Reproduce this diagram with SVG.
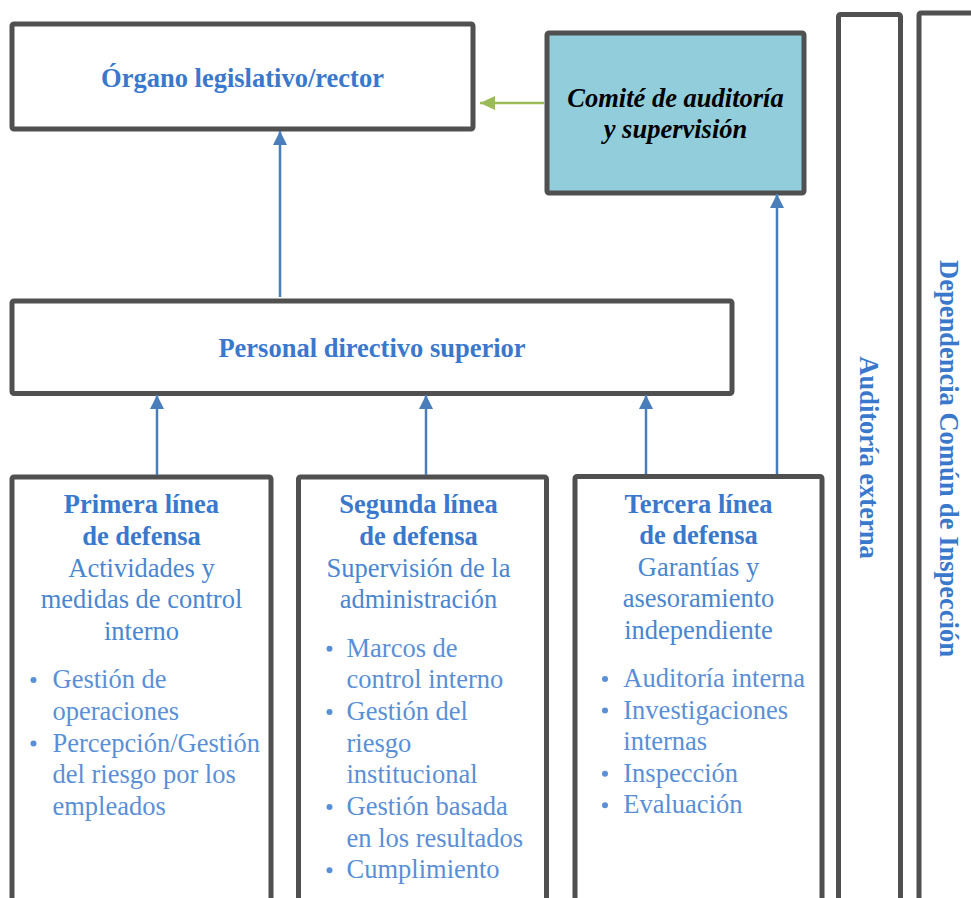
<svg xmlns="http://www.w3.org/2000/svg" width="971" height="898" viewBox="0 0 971 898">
<style>
.box{fill:#ffffff;stroke:#505050;stroke-width:5}
.hd{font-family:"Liberation Serif","Times New Roman",serif;font-weight:bold;font-size:26.5px;fill:#3a78cc}
.tx{font-family:"Liberation Serif","Times New Roman",serif;font-size:26.5px;fill:#4a86d0}
.li{font-family:"Liberation Serif","Times New Roman",serif;font-size:26.5px;fill:#5a8fd6}
.it{font-family:"Liberation Serif","Times New Roman",serif;font-weight:bold;font-style:italic;font-size:26.5px;fill:#000000}
.c{text-anchor:middle}
.bl{fill:#5a8fd6}
.conn{stroke:#4a7ebb;stroke-width:2.5;fill:none}
.gconn{stroke:#9bbb59;stroke-width:2.5;fill:none}
</style>
<defs>
<marker id="ab" markerUnits="userSpaceOnUse" markerWidth="14" markerHeight="14" refX="14" refY="7" orient="auto">
<path d="M0,0 L14,7 L0,14 z" fill="#4a7ebb"/>
</marker>
<marker id="ag" markerUnits="userSpaceOnUse" markerWidth="15" markerHeight="14" refX="15" refY="7" orient="auto">
<path d="M0,0 L15,7 L0,14 z" fill="#9bbb59"/>
</marker>
</defs>
<rect width="971" height="898" fill="#ffffff"/>

<g id="organo">
<rect class="box" x="12" y="24" width="461" height="105" rx="2"/>
<text class="hd c" x="242.5" y="87">Órgano legislativo/rector</text>
</g>

<g id="comite">
<rect x="547" y="33" width="257" height="160" rx="2" fill="#92cddc" stroke="#505050" stroke-width="5"/>
<text class="it c" x="675.5" y="107">Comité de auditoría</text>
<text class="it c" x="675.5" y="138">y supervisión</text>
</g>

<g id="personal">
<rect class="box" x="12" y="301" width="720" height="92.5" rx="2"/>
<text class="hd c" x="372" y="357">Personal directivo superior</text>
</g>

<g id="auditoria-externa">
<rect class="box" x="838.5" y="14.5" width="62" height="920" rx="2"/>
<text class="hd c" transform="translate(860,457.5) rotate(90)" x="0" y="0">Auditoría externa</text>
</g>

<g id="dependencia">
<rect class="box" x="919" y="13" width="100" height="920" rx="2"/>
<text class="hd c" transform="translate(940,458.5) rotate(90)" x="0" y="0">Dependencia Común de Inspección</text>
</g>

<g id="primera">
<rect class="box" x="12" y="477" width="259" height="460" rx="2"/>
<text class="hd c" x="141.5" y="513">Primera línea</text>
<text class="hd c" x="141.5" y="544.5">de defensa</text>
<text class="tx c" x="141.5" y="576.5">Actividades y</text>
<text class="tx c" x="141.5" y="608">medidas de control</text>
<text class="tx c" x="141.5" y="639.5">interno</text>
<circle class="bl" cx="33.5" cy="680" r="3"/>
<text class="li" x="52.5" y="688">Gestión de</text>
<text class="li" x="52.5" y="719.7">operaciones</text>
<circle class="bl" cx="33.5" cy="743.5" r="3"/>
<text class="li" x="52.5" y="751.5">Percepción/Gestión</text>
<text class="li" x="52.5" y="783.2">del riesgo por los</text>
<text class="li" x="52.5" y="815">empleados</text>
</g>

<g id="segunda">
<rect class="box" x="298.5" y="477" width="248" height="460" rx="2"/>
<text class="hd c" x="418.5" y="513">Segunda línea</text>
<text class="hd c" x="418.5" y="544.5">de defensa</text>
<text class="tx c" x="418.5" y="576.5">Supervisión de la</text>
<text class="tx c" x="418.5" y="607.7">administración</text>
<circle class="bl" cx="329.5" cy="648.7" r="3"/>
<text class="li" x="346.5" y="656.7">Marcos de</text>
<text class="li" x="346.5" y="688.3">control interno</text>
<circle class="bl" cx="329.5" cy="712" r="3"/>
<text class="li" x="346.5" y="720">Gestión del</text>
<text class="li" x="346.5" y="751.7">riesgo</text>
<text class="li" x="346.5" y="783.3">institucional</text>
<circle class="bl" cx="329.5" cy="807" r="3"/>
<text class="li" x="346.5" y="815">Gestión basada</text>
<text class="li" x="346.5" y="846.7">en los resultados</text>
<circle class="bl" cx="329.5" cy="870.3" r="3"/>
<text class="li" x="346.5" y="878.3">Cumplimiento</text>
</g>

<g id="tercera">
<rect class="box" x="575" y="476.5" width="247" height="460" rx="2"/>
<text class="hd c" x="698.5" y="513">Tercera línea</text>
<text class="hd c" x="698.5" y="544">de defensa</text>
<text class="tx c" x="698.5" y="575.5">Garantías y</text>
<text class="tx c" x="698.5" y="607">asesoramiento</text>
<text class="tx c" x="698.5" y="638.5">independiente</text>
<circle class="bl" cx="605" cy="679" r="3"/>
<text class="li" x="623.3" y="687">Auditoría interna</text>
<circle class="bl" cx="605" cy="710.5" r="3"/>
<text class="li" x="623.3" y="718.5">Investigaciones</text>
<text class="li" x="623.3" y="750">internas</text>
<circle class="bl" cx="605" cy="773.7" r="3"/>
<text class="li" x="623.3" y="781.7">Inspección</text>
<circle class="bl" cx="605" cy="805.3" r="3"/>
<text class="li" x="623.3" y="813.3">Evaluación</text>
</g>

<g id="connectors">
<line class="conn" x1="280" y1="297" x2="280" y2="131" marker-end="url(#ab)"/>
<line class="gconn" x1="544" y1="103" x2="480" y2="103" marker-end="url(#ag)"/>
<line class="conn" x1="157" y1="475" x2="157" y2="395" marker-end="url(#ab)"/>
<line class="conn" x1="426" y1="475" x2="426" y2="395" marker-end="url(#ab)"/>
<line class="conn" x1="646" y1="474" x2="646" y2="395" marker-end="url(#ab)"/>
<line class="conn" x1="777" y1="474" x2="777" y2="194" marker-end="url(#ab)"/>
</g>
</svg>
